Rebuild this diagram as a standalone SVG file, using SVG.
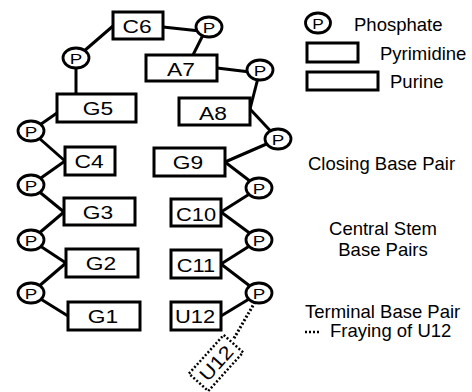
<svg xmlns="http://www.w3.org/2000/svg" width="472" height="392" viewBox="0 0 472 392">
  <style>
    text { font-family: "Liberation Sans", Arial, Helvetica, sans-serif; fill: #000; }
    .base rect { fill: #fff; stroke: #000; stroke-width: 3; }
    .base text { font-size: 19px; text-anchor: middle; }
    .phos ellipse { fill: #fff; stroke: #000; stroke-width: 2.8; }
    .phos text { font-size: 15px; text-anchor: middle; }
    .link line { stroke: #000; stroke-width: 3; stroke-linecap: butt; }
    .dots { fill: none; stroke: #000; stroke-width: 2.5; stroke-dasharray: 2 2; }
    .note { font-size: 18.5px; }
  </style>
  <rect width="472" height="392" fill="#fff"/>

  <!-- backbone connectors -->
  <g id="connectors" class="link">
    <line x1="31" y1="293" x2="66" y2="263"/>
    <line x1="31" y1="293" x2="68" y2="316"/>
    <line x1="31" y1="240" x2="64" y2="212"/>
    <line x1="31" y1="240" x2="66" y2="263"/>
    <line x1="31" y1="185" x2="65" y2="161"/>
    <line x1="31" y1="185" x2="64" y2="212"/>
    <line x1="31" y1="131" x2="57" y2="113"/>
    <line x1="31" y1="131" x2="65" y2="161"/>
    <line x1="76" y1="58" x2="76" y2="94"/>
    <line x1="76" y1="58" x2="113" y2="26"/>
    <line x1="163" y1="27" x2="200" y2="31"/>
    <line x1="204" y1="33" x2="193" y2="55"/>
    <line x1="217" y1="68" x2="250" y2="72"/>
    <line x1="258" y1="78" x2="250" y2="109"/>
    <line x1="250" y1="109" x2="278" y2="139"/>
    <line x1="225" y1="162" x2="278" y2="139"/>
    <line x1="225" y1="162" x2="259" y2="188"/>
    <line x1="221" y1="212" x2="259" y2="188"/>
    <line x1="221" y1="212" x2="259" y2="240"/>
    <line x1="221" y1="264" x2="259" y2="240"/>
    <line x1="221" y1="264" x2="259" y2="293"/>
    <line x1="221" y1="316" x2="259" y2="293"/>
    <line class="dots" x1="255" y1="302" x2="233" y2="340"/>
  </g>

  <!-- phosphates -->
  <g id="p1" class="phos"><ellipse cx="31" cy="293" rx="13" ry="10"/><text transform="translate(31,298.5) scale(1.25,1)">P</text></g>
  <g id="p2" class="phos"><ellipse cx="31" cy="240" rx="13" ry="10"/><text transform="translate(31,245.5) scale(1.25,1)">P</text></g>
  <g id="p3" class="phos"><ellipse cx="31" cy="185" rx="13" ry="10"/><text transform="translate(31,190.5) scale(1.25,1)">P</text></g>
  <g id="p4" class="phos"><ellipse cx="31" cy="131" rx="13" ry="10"/><text transform="translate(31,136.5) scale(1.25,1)">P</text></g>
  <g id="p5" class="phos"><ellipse cx="76" cy="58" rx="13" ry="10"/><text transform="translate(76,63.5) scale(1.25,1)">P</text></g>
  <g id="p6" class="phos"><ellipse cx="209" cy="27" rx="13" ry="10"/><text transform="translate(209,32.5) scale(1.25,1)">P</text></g>
  <g id="p7" class="phos"><ellipse cx="260" cy="70" rx="13" ry="10"/><text transform="translate(260,75.5) scale(1.25,1)">P</text></g>
  <g id="p8" class="phos"><ellipse cx="278" cy="139" rx="13" ry="10"/><text transform="translate(278,144.5) scale(1.25,1)">P</text></g>
  <g id="p9" class="phos"><ellipse cx="259" cy="188" rx="13" ry="10"/><text transform="translate(259,193.5) scale(1.25,1)">P</text></g>
  <g id="p10" class="phos"><ellipse cx="259" cy="240" rx="13" ry="10"/><text transform="translate(259,245.5) scale(1.25,1)">P</text></g>
  <g id="p11" class="phos"><ellipse cx="259" cy="293" rx="13" ry="10"/><text transform="translate(259,298.5) scale(1.25,1)">P</text></g>

  <!-- bases -->
  <g id="C6" class="base"><rect x="113" y="12" width="50" height="27"/><text transform="translate(137,33) scale(1.2,1)">C6</text></g>
  <g id="A7" class="base"><rect x="146" y="55" width="71" height="26"/><text transform="translate(181,76) scale(1.2,1)">A7</text></g>
  <g id="G5" class="base"><rect x="57" y="94" width="79" height="28"/><text transform="translate(98,115) scale(1.2,1)">G5</text></g>
  <g id="A8" class="base"><rect x="179" y="98" width="71" height="27"/><text transform="translate(213,120) scale(1.2,1)">A8</text></g>
  <g id="C4" class="base"><rect x="65" y="147" width="50" height="28"/><text transform="translate(89,168) scale(1.2,1)">C4</text></g>
  <g id="G9" class="base"><rect x="154" y="148" width="71" height="28"/><text transform="translate(188,169) scale(1.2,1)">G9</text></g>
  <g id="G3" class="base"><rect x="64" y="198" width="71" height="27"/><text transform="translate(98,219) scale(1.2,1)">G3</text></g>
  <g id="C10" class="base"><rect x="171" y="199" width="50" height="27"/><text transform="translate(196,221) scale(1.15,1)">C10</text></g>
  <g id="G2" class="base"><rect x="66" y="249" width="72" height="28"/><text transform="translate(101,270) scale(1.2,1)">G2</text></g>
  <g id="C11" class="base"><rect x="171" y="250" width="50" height="28"/><text transform="translate(196,272) scale(1.15,1)">C11</text></g>
  <g id="G1" class="base"><rect x="68" y="302" width="72" height="28"/><text transform="translate(103,323) scale(1.2,1)">G1</text></g>
  <g id="U12" class="base"><rect x="171" y="302" width="50" height="28"/><text transform="translate(195,323) scale(1.15,1)">U12</text></g>

  <!-- frayed U12 -->
  <g id="U12-frayed" transform="translate(216,363) rotate(-48)">
    <rect class="dots" x="-26" y="-13" width="52" height="26"/>
    <text font-size="19" text-anchor="middle" transform="translate(0,7) scale(1.15,1)">U12</text>
  </g>

  <!-- key -->
  <g id="legend">
    <g class="phos"><ellipse cx="318" cy="23" rx="12.5" ry="10"/><text transform="translate(318,28.5) scale(1.15,1)" font-size="16">P</text></g>
    <text class="note" x="354" y="31">Phosphate</text>
    <rect x="307" y="43" width="51" height="19" fill="#fff" stroke="#000" stroke-width="3"/>
    <text class="note" x="380" y="60">Pyrimidine</text>
    <rect x="307" y="72" width="71" height="18" fill="#fff" stroke="#000" stroke-width="3"/>
    <text class="note" x="390" y="88">Purine</text>
  </g>

  <!-- region labels -->
  <g id="labels">
    <text class="note" x="308" y="170">Closing Base Pair</text>
    <text class="note" x="383" y="235" text-anchor="middle">Central Stem</text>
    <text class="note" x="383" y="256" text-anchor="middle">Base Pairs</text>
    <text class="note" x="305" y="318">Terminal Base Pair</text>
    <line class="dots" x1="305" y1="332" x2="321" y2="332"/>
    <text class="note" x="330" y="337">Fraying of U12</text>
  </g>
</svg>
